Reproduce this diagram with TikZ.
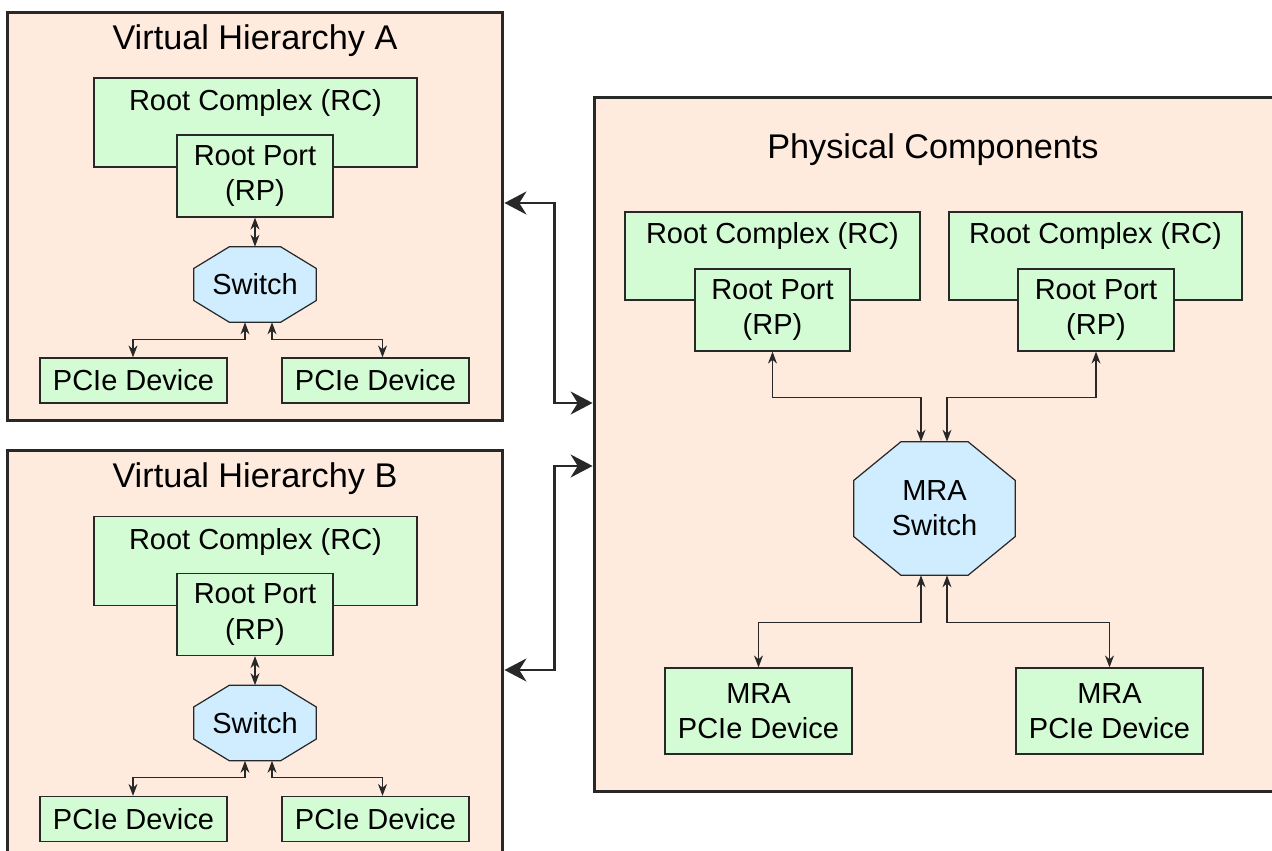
\documentclass[tikz,border=0pt]{standalone}
\usepackage{fontspec}
\setmainfont{Liberation Sans}
\usetikzlibrary{arrows.meta}

\definecolor{peach}{RGB}{255,235,222}
\definecolor{compgreen}{RGB}{212,252,212}
\definecolor{swblue}{RGB}{207,237,255}
\definecolor{edge}{RGB}{40,40,40}
\newcommand{\lbl}{\fontsize{16.5}{20}\selectfont}
% octagon round a switch node: name, half top edge, half side edge
\newcommand{\octagon}[3]{%
  \filldraw[swshape] ([xshift=-#2]#1.north) -- ([xshift=#2]#1.north) -- ([yshift=#3]#1.east)
    -- ([yshift=-#3]#1.east) -- ([xshift=#2]#1.south) -- ([xshift=-#2]#1.south)
    -- ([yshift=-#3]#1.west) -- ([yshift=#3]#1.west) -- cycle;}

\begin{document}
\begin{tikzpicture}[x=0.02cm,y=-0.02cm,
    hier/.style={draw=edge,fill=peach,line width=1.7pt,inner sep=0pt},
    comp/.style={draw=edge,fill=compgreen,line width=0.7pt,inner sep=0pt,align=center,font=\lbl},
    swbox/.style={inner sep=0pt},
    swshape/.style={draw=edge,fill=swblue,line width=0.7pt},
    title/.style={font=\fontsize{19.5}{23}\selectfont},
    txt/.style={font=\lbl,align=center},
    link/.style={{Stealth[length=2.4mm,width=1.8mm]}-{Stealth[length=2.4mm,width=1.8mm]},draw=edge,line width=0.7pt},
    biglink/.style={{Stealth[length=4.4mm,width=4.6mm]}-{Stealth[length=4.4mm,width=4.6mm]},draw=edge,line width=1.5pt}]
  \useasboundingbox (0,0) rectangle (1272,851);

  % virtual hierarchies
  \foreach \n/\dy in {A/0,B/438.5} {
    \node[hier,minimum width=9.92cm,minimum height=8.18cm] (vh\n) at (255,216.5+\dy) {};
    \node[title] (title\n) at (255,40.5+\dy) {Virtual Hierarchy \n};
    \node[comp,minimum width=6.46cm,minimum height=1.78cm] (rc\n) at (255.5,122.5+\dy) {};
    \node[txt] (rct\n) at ([yshift=-0.52cm]rc\n.north) {Root Complex (RC)};
    \node[comp,minimum width=3.12cm,minimum height=1.64cm] (rp\n) at (255,176+\dy) {Root Port\\(RP)};
    \node[swbox,minimum width=2.44cm,minimum height=1.5cm] (sw\n) at (255,284.5+\dy) {};
    \octagon{sw\n}{0.51cm}{0.32cm}
    \node[txt] (swt\n) at (sw\n) {Switch};
    \node[comp,minimum width=3.74cm,minimum height=0.9cm] (dev\n1) at (133.5,380.5+\dy) {PCIe Device};
    \node[comp,minimum width=3.74cm,minimum height=0.9cm] (dev\n2) at (375.5,380.5+\dy) {PCIe Device};
    \draw[link] (rp\n.south) -- (sw\n.north);
    \draw[link] ([xshift=-0.2cm]sw\n.south) -- ++(0,17) -| ([xshift=-0.01cm]dev\n1.north);
    \draw[link] ([xshift=0.34cm]sw\n.south) -- ++(0,17) -| ([xshift=0.14cm]dev\n2.north);
  }

  % physical side
  \node[hier,minimum width=16cm,minimum height=13.9cm] (phys) at (994,444.5) {};
  \node[title] (physt) at (933,149.5) {Physical Components};
  \node[comp,minimum width=5.9cm,minimum height=1.76cm] (rc1) at (772.5,256) {};
  \node[txt] (rct1) at ([yshift=-0.49cm]rc1.north) {Root Complex (RC)};
  \node[comp,minimum width=5.86cm,minimum height=1.76cm] (rc2) at (1095.5,256) {};
  \node[txt] (rct2) at ([yshift=-0.49cm]rc2.north) {Root Complex (RC)};
  \node[comp,minimum width=3.1cm,minimum height=1.64cm] (rp1) at (772.5,310) {Root Port\\(RP)};
  \node[comp,minimum width=3.12cm,minimum height=1.64cm] (rp2) at (1096,310) {Root Port\\(RP)};
  \node[swbox,minimum width=3.22cm,minimum height=2.66cm] (mra) at (934.5,508.5) {};
  \octagon{mra}{0.67cm}{0.56cm}
  \node[txt] (mrat) at (mra) {MRA\\Switch};
  \node[comp,minimum width=3.74cm,minimum height=1.72cm] (mdev1) at (758.5,711) {MRA\\PCIe Device};
  \node[comp,minimum width=3.74cm,minimum height=1.72cm] (mdev2) at (1109.5,711) {MRA\\PCIe Device};
  \draw[link] (rp1.south) -- ++(0,46) -| ([xshift=-0.27cm]mra.north);
  \draw[link] (rp2.south) -- ++(0,46) -| ([xshift=0.25cm]mra.north);
  \draw[link] ([xshift=-0.27cm]mra.south) -- ++(0,47) -| (mdev1.north);
  \draw[link] ([xshift=0.25cm]mra.south) -- ++(0,47) -| (mdev2.north);

  % mapping between the two sides
  \draw[biglink] ([yshift=0.27cm]vhA.east) -- ++(50,0) |- ([yshift=0.83cm]phys.west);
  \draw[biglink] ([yshift=-0.3cm]vhB.east) -- ++(50,0) |- ([yshift=-0.43cm]phys.west);
\end{tikzpicture}
\end{document}
